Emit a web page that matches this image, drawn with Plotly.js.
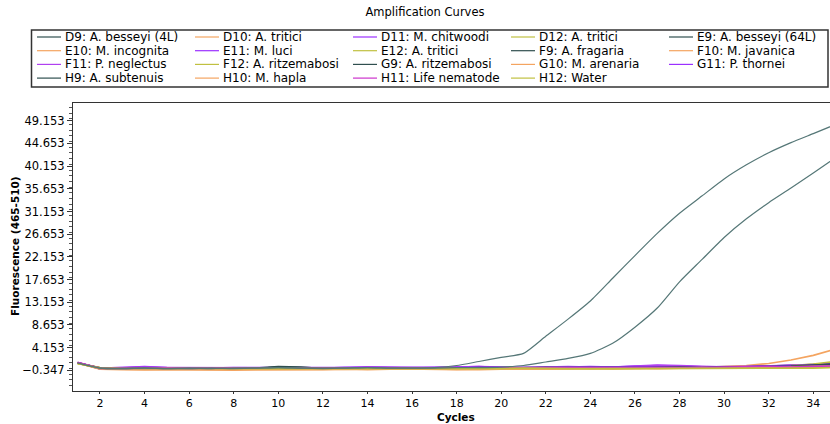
<!DOCTYPE html>
<html>
<head>
<meta charset="utf-8">
<script src="https://cdn.plot.ly/plotly-3.0.1.min.js"></script>
<style>html,body{margin:0;padding:0;background:#fff;overflow:hidden;}#chart{width:830px;height:424px;}</style>
</head>
<body>
<div id="chart"></div>
<script>
// ---- data ----
var cycles = [1,2,3,4,5,6,7,8,9,10,11,12,13,14,15,16,17,18,19,20,21,22,23,24,25,26,27,28,29,30,31,32,33,34,35];

var sampleNames = [
  "D9: A. besseyi (4L)", "D10: A. tritici", "D11: M. chitwoodi", "D12: A. tritici", "E9: A. besseyi (64L)",
  "E10: M. incognita", "E11: M. luci", "E12: A. tritici", "F9: A. fragaria", "F10: M. javanica",
  "F11: P. neglectus", "F12: A. ritzemabosi", "G9: A. ritzemabosi", "G10: M. arenaria", "G11: P. thornei",
  "H9: A. subtenuis", "H10: M. hapla", "H11: Life nematode", "H12: Water"
];

var sampleColors = [
  "#2f4f4f", "#f4a460", "#9b30ff", "#c0c040", "#2f4f4f",
  "#f4a460", "#9b30ff", "#c0c040", "#2f4f4f", "#f4a460",
  "#b040f0", "#c0c040", "#2f4f4f", "#f4a460", "#9b30ff",
  "#2f4f4f", "#f4a460", "#cc33cc", "#c0c040"
];

var D9  = [1.1,0.1,0.0,0.1,0.0,0.1,0.0,0.1,0.1,0.2,0.1,0.0,0.1,0.2,0.1,0.1,0.1,0.2,0.2,0.3,0.6,1.3,2.0,3.0,5.0,8.2,12.0,17.2,21.6,26.0,29.7,32.9,35.8,38.8,41.8];
var D10 = [1.2,0.0,-0.1,-0.1,-0.2,-0.1,-0.2,-0.2,-0.2,-0.1,-0.1,-0.1,0.0,-0.1,-0.1,0.0,-0.1,-0.2,-0.2,-0.1,-0.1,0.0,0.0,0.1,0.0,0.1,0.0,0.1,0.1,0.2,0.1,0.2,0.2,0.3,0.3];
var D11 = [1.1,0.1,0.2,0.4,0.2,0.1,0.1,0.2,0.2,0.1,0.1,0.2,0.2,0.3,0.2,0.1,0.2,0.3,0.4,0.2,0.1,0.2,0.3,0.4,0.3,0.4,0.6,0.5,0.3,0.2,0.3,0.4,0.5,0.6,0.7];
var D12 = [1.0,0.2,0.1,0.0,0.0,0.1,0.1,0.0,0.0,0.0,0.1,0.0,0.0,0.1,0.0,0.0,0.1,0.0,0.0,0.1,0.1,0.2,0.1,0.0,0.1,0.1,0.1,0.2,0.1,0.1,0.2,0.2,0.2,0.3,0.3];
var E9  = [1.1,0.1,0.0,0.1,0.0,0.0,0.1,0.0,0.1,0.2,0.1,0.1,0.1,0.2,0.1,0.1,0.2,0.6,1.4,2.2,3.0,6.4,9.8,13.4,17.9,22.4,26.8,30.8,34.2,37.6,40.4,42.8,44.8,46.6,48.4];
var E10 = [1.1,0.0,-0.1,-0.2,-0.2,-0.2,-0.3,-0.3,-0.2,-0.2,-0.2,-0.1,-0.1,-0.1,0.0,-0.1,-0.1,-0.2,-0.1,-0.1,0.0,0.0,0.1,0.0,0.0,0.1,0.1,0.0,0.1,0.1,0.2,0.3,0.3,0.4,0.5];
var E11 = [1.2,0.0,0.1,0.3,0.1,0.0,0.1,0.1,0.0,0.1,0.1,0.1,0.2,0.2,0.1,0.1,0.2,0.2,0.3,0.1,0.1,0.2,0.2,0.3,0.2,0.3,0.5,0.4,0.3,0.3,0.2,0.3,0.4,0.5,0.6];
var E12 = [1.0,0.1,0.0,0.0,-0.1,0.0,0.0,-0.1,0.0,0.0,0.0,0.0,0.1,0.0,0.0,0.1,0.0,0.0,0.1,0.1,0.2,0.1,0.0,0.1,0.0,0.1,0.1,0.1,0.2,0.2,0.2,0.3,0.4,0.6,0.9];
var F9  = [1.1,0.1,0.1,0.1,0.0,0.0,0.1,0.1,0.1,0.4,0.3,0.0,0.0,0.2,0.2,0.1,0.0,0.1,0.1,0.1,0.2,0.3,0.2,0.2,0.1,0.2,0.2,0.3,0.3,0.3,0.4,0.5,0.6,0.8,1.0];
var F10 = [1.2,0.0,-0.1,-0.2,-0.1,-0.1,-0.2,-0.2,-0.2,-0.1,-0.2,-0.1,-0.1,0.0,-0.1,-0.1,0.0,-0.1,-0.1,0.0,0.0,0.1,0.0,0.1,0.1,0.1,0.1,0.2,0.2,0.4,0.6,1.0,1.7,2.6,3.9];
var F11 = [1.2,0.1,0.2,0.3,0.2,0.2,0.1,0.2,0.1,0.1,0.2,0.2,0.1,0.3,0.2,0.2,0.2,0.3,0.4,0.3,0.2,0.3,0.4,0.3,0.3,0.5,0.7,0.6,0.4,0.3,0.4,0.5,0.6,0.8,0.9];
var F12 = [1.0,0.2,0.1,0.1,0.0,0.0,0.0,0.0,0.1,0.0,0.0,0.1,0.0,0.0,0.1,0.0,0.0,0.0,0.1,0.1,0.1,0.0,0.1,0.1,0.0,0.0,0.1,0.1,0.1,0.2,0.3,0.4,0.6,0.9,1.4];
var G9  = [1.1,0.0,0.0,0.0,-0.1,-0.1,0.0,0.0,0.1,0.2,0.1,-0.1,-0.1,0.1,0.1,-0.1,0.0,0.1,0.1,0.1,0.1,0.2,0.1,0.1,0.1,0.2,0.3,0.2,0.2,0.3,0.3,0.4,0.5,0.6,0.8];
var G10 = [1.1,-0.1,-0.2,-0.2,-0.3,-0.2,-0.3,-0.3,-0.3,-0.2,-0.2,-0.2,-0.1,-0.2,-0.1,-0.1,-0.2,-0.2,-0.2,-0.1,-0.1,-0.1,0.0,0.0,0.0,0.0,0.1,0.1,0.0,0.1,0.1,0.2,0.2,0.3,0.4];
var G11 = [1.2,0.0,0.1,0.2,0.1,0.1,0.0,0.1,0.1,0.1,0.1,0.1,0.2,0.2,0.1,0.2,0.2,0.2,0.3,0.2,0.2,0.2,0.3,0.3,0.3,0.4,0.3,0.3,0.4,0.3,0.4,0.5,0.6,0.7,0.8];
var H9  = [1.1,0.1,0.0,0.1,0.0,0.0,0.1,0.0,0.0,0.3,0.2,0.0,0.0,0.1,0.1,0.0,0.1,0.1,0.2,0.1,0.1,0.2,0.2,0.1,0.2,0.2,0.2,0.3,0.2,0.3,0.3,0.4,0.5,0.7,0.9];
var H10 = [1.1,0.0,-0.1,-0.1,-0.2,-0.1,-0.2,-0.2,-0.2,-0.2,-0.1,-0.1,-0.1,-0.1,0.0,0.0,-0.1,-0.1,-0.1,0.0,0.0,0.0,0.1,0.1,0.0,0.1,0.1,0.1,0.2,0.1,0.2,0.3,0.3,0.4,0.5];
var H11 = [1.2,0.1,0.0,0.1,0.1,0.0,0.1,0.1,0.1,0.1,0.1,0.1,0.1,0.1,0.1,0.2,0.2,0.2,0.2,0.1,0.1,0.2,0.2,0.2,0.1,0.1,0.2,0.2,0.2,0.3,0.4,0.4,0.3,0.4,0.5];
var H12 = [1.0,0.1,0.0,0.0,0.0,-0.1,0.0,0.0,0.0,0.0,0.0,0.0,0.0,0.0,0.0,0.0,0.0,0.0,0.0,0.0,0.1,0.0,0.0,0.0,0.0,0.0,0.0,0.1,0.1,0.0,0.1,0.1,0.1,0.1,0.2];

var sampleValues = [D9, D10, D11, D12, E9, E10, E11, E12, F9, F10, F11, F12, G9, G10, G11, H9, H10, H11, H12];

var yTick0 = -0.347, yStep = 4.5;

// ---- figure ----
var FONT = "DejaVu Sans, Arial, sans-serif";
var W = 830, H = 424, mL = 73, mR = 0, mT = 103, mB = 33;
var pw = W - mL - mR, ph = H - mT - mB;
function px(x) { return (x - mL) / pw; }
function py(y) { return (H - mB - y) / ph; }

// draw baselines first, amplified curves on top
var order = [];
for (var i = 0; i < sampleNames.length; i++) { if (i !== 0 && i !== 4) order.push(i); }
order.push(0); order.push(4);

var traces = order.map(function (i) {
  var amplified = (i === 0 || i === 4);
  return {
    x: cycles, y: sampleValues[i], name: sampleNames[i], type: "scatter", mode: "lines",
    line: { color: amplified ? "#557777" : sampleColors[i], width: amplified ? 1.2 : 1.7,
            shape: amplified ? "spline" : "linear", smoothing: 0.6 },
    showlegend: false, hoverinfo: "x+y+name"
  };
});

// legend box (5 columns x 4 rows)
var shapes = [{
  type: "rect", xref: "paper", yref: "paper",
  x0: px(31.5), x1: px(828), y0: py(30), y1: py(87),
  line: { color: "#333", width: 1.5 }, fillcolor: "rgba(0,0,0,0)"
}];
var annotations = [];
sampleNames.forEach(function (n, i) {
  var col = i % 5, row = Math.floor(i / 5);
  var lx = 37 + 158 * col, ly = 37 + 13.7 * row;
  shapes.push({
    type: "line", xref: "paper", yref: "paper",
    x0: px(lx), x1: px(lx + 24), y0: py(ly), y1: py(ly),
    line: { color: sampleColors[i], width: 1.2 }
  });
  annotations.push({
    xref: "paper", yref: "paper", x: px(lx + 26), y: py(ly), xanchor: "left", yanchor: "middle",
    text: n, showarrow: false, font: { family: FONT, size: 12, color: "#000" }
  });
});

annotations.push({
  xref: "paper", yref: "paper", x: px(15), y: py(246), xanchor: "center", yanchor: "middle",
  text: "<b>Fluorescence (465-510)</b>", textangle: -90, showarrow: false,
  font: { family: FONT, size: 10.5, color: "#000" }
});
annotations.push({
  xref: "paper", yref: "paper", x: px(456), y: py(417), xanchor: "center", yanchor: "middle",
  text: "<b>Cycles</b>", showarrow: false, font: { family: FONT, size: 10.5, color: "#000" }
});

var layout = {
  width: W, height: H,
  margin: { l: mL, r: mR, t: mT, b: mB, pad: 0 },
  paper_bgcolor: "#fff", plot_bgcolor: "#fff",
  font: { family: FONT, size: 11.5, color: "#000" },
  title: { text: "Amplification Curves", x: 425 / W, xanchor: "center", y: 1 - 12 / H, yanchor: "middle",
           font: { family: FONT, size: 11.5, color: "#000" } },
  showlegend: false,
  xaxis: {
    range: [0.79, 34.75], tick0: 0, dtick: 2, ticks: "outside", ticklen: 2, tickcolor: "#333",
    showgrid: false, zeroline: false, showline: true, linecolor: "#333", linewidth: 1, mirror: true,
    tickfont: { family: FONT, size: 11, color: "#000" }
  },
  yaxis: {
    range: [-4.454, 52.665], tick0: yTick0, dtick: yStep, tickformat: ".3f",
    ticks: "outside", ticklen: 5, tickcolor: "#333",
    minor: { dtick: yStep / 4, ticks: "outside", ticklen: 3, tickcolor: "#555" },
    showgrid: false, zeroline: false, showline: true, linecolor: "#333", linewidth: 1,
    tickfont: { family: FONT, size: 11.5, color: "#000" }
  },
  shapes: shapes,
  annotations: annotations
};

Plotly.newPlot("chart", traces, layout, { displayModeBar: false, staticPlot: true });
</script>
</body>
</html>
